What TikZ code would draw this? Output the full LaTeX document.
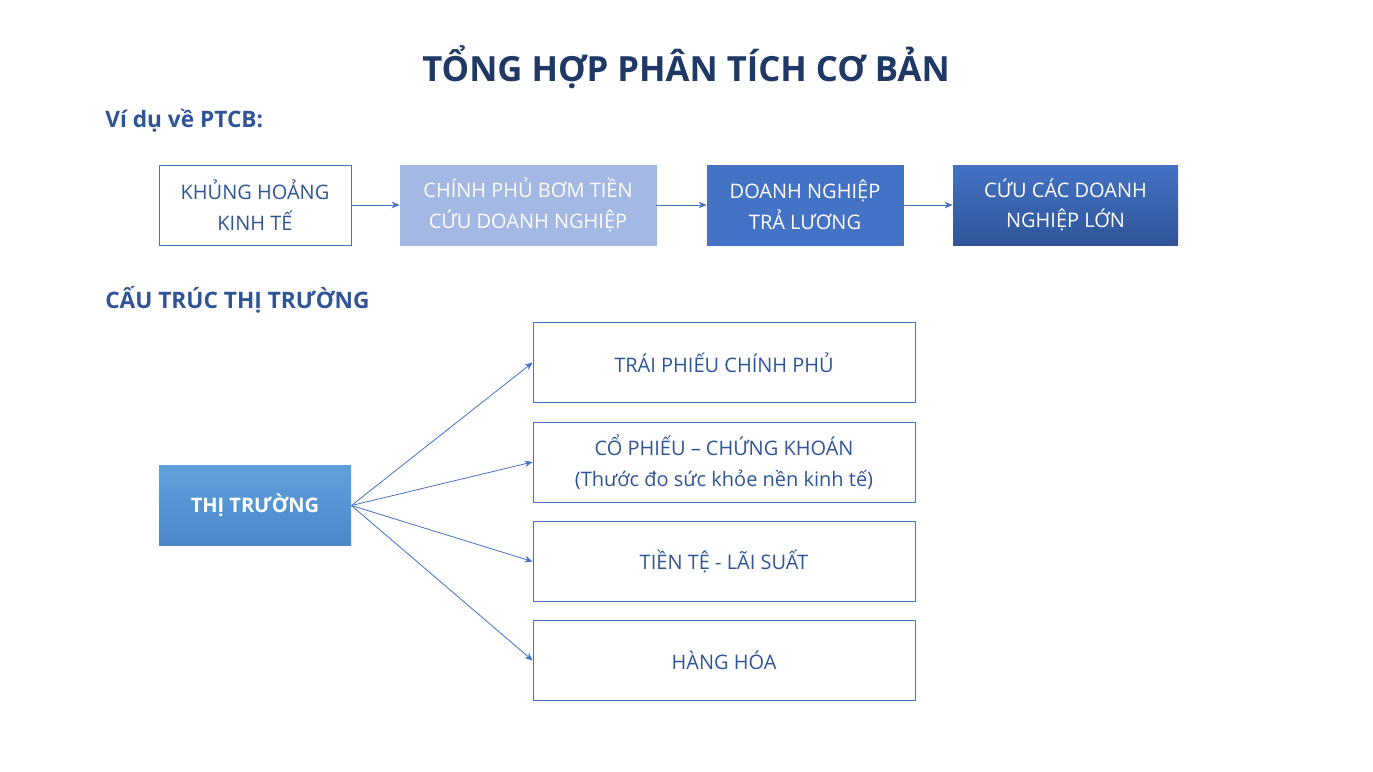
\documentclass[tikz,border=0pt]{standalone}
\usepackage{fontspec}
\setmainfont{Open Sans}
\usetikzlibrary{arrows.meta}
\definecolor{navy}{HTML}{1F3864}
\definecolor{tblue}{HTML}{2F5597}
\definecolor{mblue}{HTML}{4472C4}
\definecolor{lblue}{HTML}{A3B8E2}
\definecolor{sky1}{HTML}{5FA0DC}
\definecolor{sky2}{HTML}{4A88C8}
\begin{document}
\begin{tikzpicture}[x=0.75pt,y=-0.75pt,
  box/.style={draw=mblue,line width=0.6pt,minimum width=#1*0.75pt,minimum height=60pt,align=center,font=\fontsize{15}{23}\selectfont,inner sep=0pt},
  arr/.style={-{Stealth[length=6pt,width=5pt]},draw=mblue,line width=0.6pt}]
\useasboundingbox (0,0) rectangle (1373,771);
\node[font=\bfseries\fontsize{26}{30}\selectfont,text=navy] (t) at (686,67) {TỔNG HỢP PHÂN TÍCH CƠ BẢN};
\node[anchor=west,font=\bfseries\fontsize{17}{20}\selectfont,text=tblue,inner sep=0pt] (v) at (105,121) {Ví dụ về PTCB:};
\node[anchor=west,font=\bfseries\fontsize{17}{20}\selectfont,text=tblue,inner sep=0pt] (c) at (105,300) {CẤU TRÚC THỊ TRƯỜNG};
\node[box=192,text=tblue,fill=white] (a1) at (255,205) {KHỦNG HOẢNG\\KINH TẾ};
\node[box=256,draw=lblue,fill=lblue,text=white] (a2) at (528,205) {CHÍNH PHỦ BƠM TIỀN\\CỨU DOANH NGHIỆP};
\node[box=196,fill=mblue,text=white] (a3) at (805,205) {DOANH NGHIỆP\\TRẢ LƯƠNG};
\node[box=225,draw=none,top color=mblue,bottom color=tblue,text=white] (a4) at (1065.5,205) {CỨU CÁC DOANH\\NGHIỆP LỚN};
\draw[arr] (a1) -- (a2); \draw[arr] (a2) -- (a3); \draw[arr] (a3) -- (a4);
\node[box=192,draw=none,top color=sky1,bottom color=sky2,text=white,font=\bfseries\fontsize{15}{20}\selectfont] (m) at (255,505.5) {THỊ TRƯỜNG};
\node[box=382,text=tblue] (b1) at (724,362.5) {TRÁI PHIẾU CHÍNH PHỦ};
\node[box=382,text=tblue] (b2) at (724,462) {CỔ PHIẾU – CHỨNG KHOÁN\\(Thước đo sức khỏe nền kinh tế)};
\node[box=382,text=tblue] (b3) at (724,561.5) {TIỀN TỆ - LÃI SUẤT};
\node[box=382,text=tblue] (b4) at (724,660.5) {HÀNG HÓA};
\foreach \b in {b1,b2,b3,b4} \draw[arr] (m.east) -- (\b.west);
\end{tikzpicture}
\end{document}
